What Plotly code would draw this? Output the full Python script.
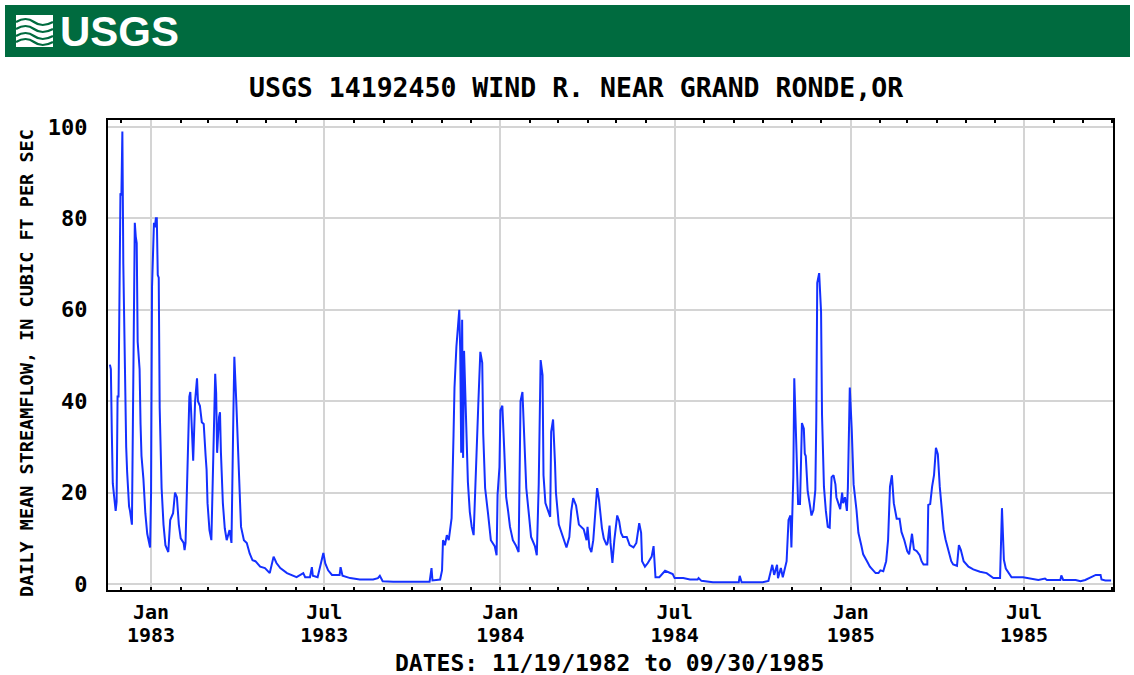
import plotly.graph_objects as go
import pandas as pd

# ---------------- data ----------------
start_date = "1982-11-19"
day_offsets = [
    0, 1, 2, 3, 4, 5, 6, 7, 8, 9, 10, 11, 12, 13, 14, 15, 16, 17, 18, 19, 20, 21, 22, 23, 24, 25, 26, 27, 28, 29,
    30, 31, 32, 33, 35, 37, 39, 41, 42, 43, 44, 45, 46, 47, 48, 49, 50, 51, 52, 54, 56, 58, 61, 63, 66, 68, 70,
    72, 74, 77, 78, 79, 81, 83, 84, 86, 87, 89, 91, 92, 94, 96, 98, 100, 101, 102, 104, 106, 108, 110, 111, 112,
    114, 115, 116, 118, 120, 122, 125, 127, 129, 130, 132, 134, 136, 137, 140, 143, 146, 149, 152, 157, 162, 167,
    169, 171, 174, 178, 185, 195, 202, 204, 209, 211, 212, 217, 223, 225, 228, 232, 240, 241, 243, 251, 261, 275,
    280, 282, 285, 296, 334, 336, 337, 345, 347, 348, 350, 352, 354, 357, 359, 360, 362, 365, 366, 367, 368, 369,
    370, 372, 374, 376, 378, 380, 382, 384, 385, 387, 389, 390, 392, 395, 397, 398, 402, 404, 405, 407, 408, 410,
    412, 414, 416, 418, 421, 424, 427, 429, 431, 433, 435, 438, 440, 444, 446, 448, 450, 452, 453, 455, 458, 460,
    461, 463, 465, 466, 469, 472, 474, 477, 480, 482, 484, 487, 490, 493, 495, 498, 499, 501, 503, 505, 507, 509,
    511, 514, 516, 519, 520, 522, 523, 525, 527, 530, 532, 534, 536, 540, 543, 547, 550, 553, 555, 556, 559, 562,
    566, 568, 570, 574, 580, 585, 588, 590, 599, 606, 614, 615, 618, 630, 657, 658, 660, 682, 688, 690, 692, 694,
    697, 698, 701, 703, 707, 709, 711, 712, 714, 715, 716, 718, 719, 721, 723, 725, 726, 727, 729, 731, 733, 735,
    737, 738, 739, 741, 743, 744, 746, 748, 750, 752, 754, 756, 758, 759, 761, 763, 765, 766, 768, 770, 771, 772,
    773, 775, 777, 780, 782, 785, 787, 791, 794, 800, 803, 805, 808, 811, 813, 815, 817, 819, 820, 822, 825, 827,
    830, 833, 835, 837, 838, 840, 843, 846, 848, 850, 854, 855, 857, 859, 861, 863, 865, 867, 869, 871, 873, 876,
    879, 881, 885, 887, 889, 892, 897, 902, 909, 916, 923, 930, 931, 932, 934, 936, 942, 954, 970, 977, 979, 993,
    994, 996, 1009, 1014, 1019, 1026, 1030, 1035, 1036, 1040, 1046,
]
flow_cfs = [
    48, 47, 33, 22, 20, 17, 16, 18, 41, 41, 70, 85.5, 85, 99, 70, 55, 40, 30, 24.5, 20, 17, 16, 14, 13, 35, 60, 79,
    76, 74.6, 53, 50, 47, 35, 28, 23, 15.5, 11, 9, 8, 20, 65, 72, 79, 78, 80, 80, 67.6, 67, 38.5, 21, 13, 8.5, 7,
    14, 15.5, 20, 19, 13, 10, 9, 7.4, 9, 28.7, 41, 42, 34, 27, 40, 45, 40, 39, 35.4, 35, 28, 25, 17.7, 11.8, 9.6,
    28.7, 46, 41.8, 28.7, 36.5, 37.6, 28.7, 17.7, 12.2, 9.6, 11.8, 9, 37.4, 49.7, 40, 26.5, 17.7, 12.5, 9.6, 9,
    6.7, 5.2, 5, 3.8, 3.5, 2.4, 4.3, 6, 4.6, 3.5, 2.4, 1.5, 2.4, 1.5, 1.5, 3.7, 1.8, 1.5, 6.8, 4.5, 3, 2, 2, 3.7,
    1.8, 1.3, 1.0, 1.0, 1.3, 1.8, 0.6, 0.5, 0.5, 3.5, 0.8, 1, 3, 9.6, 8.5, 10.7, 9.6, 14.4, 32.6, 42.9, 51.9, 60,
    51, 28.7, 57.8, 27.6, 51, 34, 22.3, 15.8, 12.5, 10.7, 23.8, 34, 40, 50.8, 48.4, 33, 21, 15.5, 11, 9.6, 8.3,
    6.3, 19.5, 25.6, 38, 39, 29.3, 19, 16, 12.5, 9.6, 8.5, 7, 40, 42, 32.6, 21, 14.7, 10.3, 8.3, 6.3, 21.7, 49,
    45.7, 23.8, 17.7, 16, 14.7, 33.3, 36, 26.5, 20, 13, 11, 9.6, 8, 10.3, 16, 18.8, 17.2, 13, 12.3, 12, 9.6, 12.5,
    8, 7, 9.6, 16, 21, 18.4, 12.3, 10, 8.5, 9, 12.8, 9, 4.6, 9.6, 15, 13.8, 11.2, 10.3, 10.3, 8.5, 8, 9, 13.3,
    11.2, 5, 3.8, 4.6, 6, 8.3, 1.5, 1.5, 2.9, 2.4, 2.2, 1.3, 1.3, 1.0, 1.0, 1.3, 0.7, 0.4, 0.4, 1.8, 0.4, 0.4,
    0.7, 2.4, 4.2, 2, 4.2, 1.3, 3.5, 1.5, 5, 14, 15, 8, 23.4, 45, 37, 20, 17.5, 17.5, 35.2, 34, 28.5, 28, 20.3,
    17.7, 15, 16.2, 20.6, 35.9, 65.9, 68, 59.5, 37, 21.3, 16, 12.5, 12.3, 23.4, 23.8, 21.8, 19, 17.5, 16.4, 20,
    17.7, 19, 16, 21, 38.5, 43, 34, 21.8, 16.2, 11.2, 8.5, 6.5, 5, 3.8, 2.4, 2.4, 3, 2.8, 5, 9.6, 21.3, 23.8,
    17.7, 16.4, 14.3, 14.3, 11.4, 9.6, 7.2, 6.5, 10.3, 11, 7.6, 7.2, 6.3, 5, 4.3, 4.3, 17.3, 17.5, 21.3, 23.8,
    29.8, 28.4, 21.3, 16.4, 12, 9.8, 7.2, 5, 4.3, 4, 8.5, 7.5, 5, 3.8, 3.2, 2.7, 2.4, 1.3, 1.3, 10.7, 16.6, 5.3,
    3.4, 1.5, 1.5, 0.9, 1.2, 0.9, 0.9, 1.9, 0.9, 0.9, 0.6, 0.9, 1.5, 2, 2, 1, 0.8, 0.8,
]
y_tick_values = [0, 20, 40, 60, 80, 100]
x_range = ["1982-11-17", "1985-10-02"]

title_text = "USGS 14192450 WIND R. NEAR GRAND RONDE,OR"
y_title = "DAILY MEAN STREAMFLOW, IN CUBIC FT PER SEC"
x_title = "DATES: 11/19/1982 to 09/30/1985"
logo_text = "USGS"

dates = pd.to_datetime(start_date) + pd.to_timedelta(day_offsets, unit="D")

# ---------------- layout geometry ----------------
W, H = 1134, 675
L, R, T, B = 108, 21, 120, 85
PW, PH = W - L - R, H - T - B


def px(x):
    return (x - L) / PW


def py(y):
    return (H - B - y) / PH


MONO = "DejaVu Sans Mono"
GREEN = "#006B3F"
CLEAR = "rgba(0,0,0,0)"
tick_font = dict(family=MONO, size=20, color="black", weight="bold")

fig = go.Figure()
# helper (invisible) traces so the overlaid label / tick axes get drawn
for ax in ("x2", "x3"):
    fig.add_trace(go.Scatter(x=dates, y=flow_cfs, xaxis=ax, yaxis="y", mode="lines",
                             line=dict(color=CLEAR, width=0), hoverinfo="skip",
                             showlegend=False))
fig.add_trace(go.Scatter(x=dates, y=flow_cfs, mode="lines",
                         line=dict(color="#1430ff", width=2),
                         hoverinfo="x+y", showlegend=False))

shapes = [
    dict(type="rect", xref="paper", yref="paper", x0=px(5), x1=px(1130), y0=py(57), y1=py(5),
         fillcolor=GREEN, line=dict(width=0), layer="above"),
    dict(type="rect", xref="paper", yref="paper", x0=px(16), x1=px(53), y0=py(47), y1=py(15),
         fillcolor="white", line=dict(width=0), layer="above"),
]
# wave lines inside the logo icon
for yy in (22, 29, 36, 42):
    path = (f"M {px(16)},{py(yy)} Q {px(26)},{py(yy-6)} {px(34)},{py(yy)} "
            f"T {px(53)},{py(yy)}")
    shapes.append(dict(type="path", xref="paper", yref="paper", path=path,
                       line=dict(color=GREEN, width=2.2), layer="above"))

annotations = [
    dict(text=f"<b>{logo_text}</b>", x=px(58), y=py(32), xref="paper", yref="paper",
         xanchor="left", yanchor="middle", showarrow=False,
         font=dict(family="Liberation Sans, Arial, sans-serif", size=42, color="white")),
    dict(text=title_text, x=px(576), y=py(88), xref="paper", yref="paper",
         xanchor="center", yanchor="middle", showarrow=False,
         font=dict(family=MONO, size=26.5, color="black", weight="bold")),
    dict(text=y_title, x=px(26), y=py(363), xref="paper", yref="paper", textangle=-90,
         xanchor="center", yanchor="middle", showarrow=False,
         font=dict(family=MONO, size=18.5, color="black", weight="bold")),
    dict(text=x_title, x=px(609), y=py(663), xref="paper", yref="paper",
         xanchor="center", yanchor="middle", showarrow=False,
         font=dict(family=MONO, size=23, color="black", weight="bold")),
]

minor_ticks = dict(dtick="M1", tick0="1983-01-01", ticks="inside", ticklen=3, tickwidth=2,
                   tickcolor="black", showgrid=False)

fig.update_layout(
    width=W, height=H,
    margin=dict(l=L, r=R, t=T, b=B, pad=0),
    paper_bgcolor="white", plot_bgcolor="white",
    shapes=shapes, annotations=annotations,
    showlegend=False,
    # month row
    xaxis=dict(
        type="date", range=x_range,
        tick0="1983-01-01", dtick="M6", tickformat="%b",
        showgrid=True, gridcolor="#d4d4d4", gridwidth=2,
        ticks="outside", ticklen=3, tickcolor=CLEAR,
        showline=True, linecolor="black", linewidth=2, mirror=True,
        minor=minor_ticks, tickfont=tick_font, zeroline=False,
    ),
    # year row (same scale, labels only)
    xaxis2=dict(
        type="date", range=x_range, overlaying="x", side="bottom", anchor="y",
        tick0="1983-01-01", dtick="M6", tickformat="%Y",
        showgrid=False, showline=False, zeroline=False,
        ticks="outside", ticklen=27, tickcolor=CLEAR,
        tickfont=tick_font,
    ),
    # monthly ticks along the top edge
    xaxis3=dict(
        type="date", range=x_range, overlaying="x", side="top", anchor="y",
        showticklabels=False, showgrid=False, showline=False, zeroline=False, ticks="",
        minor=minor_ticks,
    ),
    yaxis=dict(
        range=[-1.3, 101.5], tickvals=y_tick_values,
        showgrid=True, gridcolor="#d4d4d4", gridwidth=2,
        ticks="outside", ticklen=14, tickcolor=CLEAR,
        showline=True, linecolor="black", linewidth=2, mirror=True,
        tickfont=dict(family=MONO, size=22, color="black", weight="bold"),
        zeroline=False,
    ),
)

fig.write_html("out.html")
